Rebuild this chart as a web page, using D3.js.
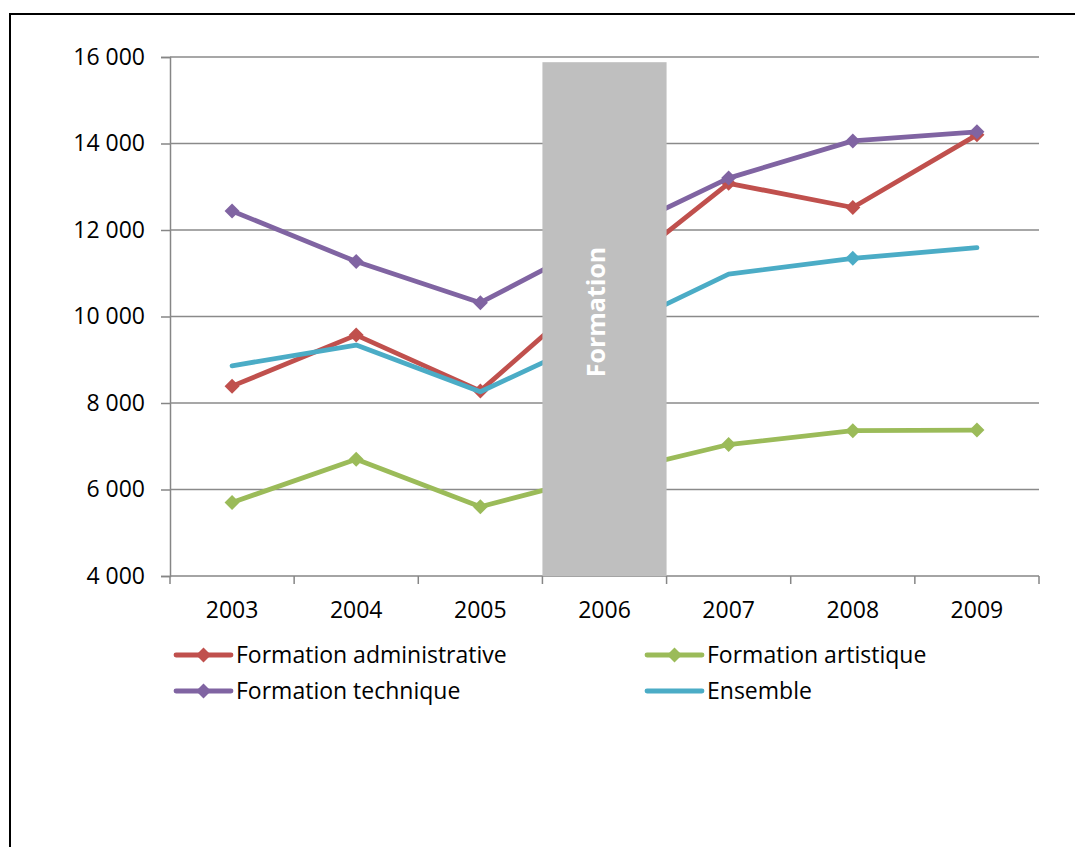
<!DOCTYPE html>
<html>
<head>
<meta charset="utf-8">
<script src="https://cdn.jsdelivr.net/npm/d3@7"></script>
<style>
  body { margin: 0; background: #fff; }
  text { font-family: "Open Sans", "Noto Sans", sans-serif; }
</style>
</head>
<body>
<script>
// data (2006 hidden behind the grey band, estimated)
const years = ["2003", "2004", "2005", "2006", "2007", "2008", "2009"];
const administrative = [8390, 9570, 8280, 10800, 13080, 12520, 14200];
const artistique = [5700, 6700, 5600, 6350, 7040, 7360, 7375];
const technique = [12440, 11270, 10320, 11820, 13200, 14060, 14270];
const ensemble = [8860, 9340, 8260, 9600, 10980, 11345, 11590];
const ensembleMarkers = ["2008"];
const seriesNames = ["Formation administrative", "Formation artistique", "Formation technique", "Ensemble"];
const seriesColors = ["#C0504D", "#9BBB59", "#8064A2", "#4BACC6"];
const yTicks = [4000, 6000, 8000, 10000, 12000, 14000, 16000];
const bandYear = "2006";
const bandLabel = "Formation";
const bandTop = 15880;

const W = 1075, H = 847;
const svg = d3.select("body").append("svg")
  .attr("width", W)
  .attr("height", H);

// outer frame
svg.append("rect")
  .attr("x", 10).attr("y", 14)
  .attr("width", 1100).attr("height", 900)
  .attr("fill", "none").attr("stroke", "#000").attr("stroke-width", 2);

const x = d3.scaleBand().domain(years).range([170, 1039]).padding(0);
const y = d3.scaleLinear().domain([4000, 16000]).range([576, 57]);
const fr = d3.formatLocale({ decimal: ",", thousands: " ", grouping: [3], currency: ["", ""] });
const fmt = fr.format(",d");
const cx = d => x(d) + x.bandwidth() / 2;

// gridlines + y axis
const yAxis = d3.axisLeft(y).tickValues(yTicks).tickFormat(fmt).tickSize(9).tickPadding(16);
const gy = svg.append("g").attr("transform", "translate(170,0)").call(yAxis);
gy.select(".domain").attr("stroke", "#868686").attr("stroke-width", 1.5);
gy.selectAll(".tick line").attr("stroke", "#868686").attr("stroke-width", 1.5);
gy.selectAll(".tick text").attr("font-size", 23).attr("fill", "#000")
  .attr("font-family", "Open Sans, sans-serif");

svg.append("g").selectAll("line")
  .data(yTicks.filter(t => t > 4000))
  .join("line")
  .attr("x1", 170).attr("x2", 1039)
  .attr("y1", d => y(d)).attr("y2", d => y(d))
  .attr("stroke", "#8a8a8a").attr("stroke-width", 1.5);

// x axis: baseline, ticks between categories, labels
svg.append("line")
  .attr("x1", 170).attr("x2", 1039).attr("y1", y(4000)).attr("y2", y(4000))
  .attr("stroke", "#868686").attr("stroke-width", 1.5);
const edges = years.map(d => x(d)).concat([x.range()[1]]);
svg.append("g").selectAll("line")
  .data(edges)
  .join("line")
  .attr("x1", d => d).attr("x2", d => d)
  .attr("y1", y(4000)).attr("y2", y(4000) + 8)
  .attr("stroke", "#868686").attr("stroke-width", 1.5);
svg.append("g").selectAll("text")
  .data(years)
  .join("text")
  .attr("x", d => cx(d)).attr("y", 618)
  .attr("text-anchor", "middle")
  .attr("font-size", 23)
  .text(d => d);

// series lines
const allSeries = [administrative, artistique, technique, ensemble];
const line = d3.line().x((d, i) => cx(years[i])).y(d => y(d));
const diamond = "M0,-7.5L7.5,0L0,7.5L-7.5,0Z";

allSeries.forEach((vals, s) => {
  svg.append("path")
    .datum(vals)
    .attr("d", line)
    .attr("fill", "none")
    .attr("stroke", seriesColors[s])
    .attr("stroke-width", 4.8)
    .attr("stroke-linejoin", "round")
    .attr("stroke-linecap", "round");
  const pts = vals.map((v, i) => ({ year: years[i], v }))
    .filter(p => s < 3 || ensembleMarkers.includes(p.year));
  svg.append("g").selectAll("path")
    .data(pts)
    .join("path")
    .attr("d", diamond)
    .attr("transform", p => `translate(${cx(p.year)},${y(p.v)})`)
    .attr("fill", seriesColors[s]);
});

// grey band over 2006
svg.append("rect")
  .attr("x", x(bandYear)).attr("width", x.bandwidth())
  .attr("y", y(bandTop)).attr("height", y(4000) - y(bandTop))
  .attr("fill", "#BFBFBF");
svg.append("text")
  .attr("transform", `translate(${cx(bandYear)},312) rotate(-90)`)
  .attr("text-anchor", "middle")
  .attr("font-size", 25)
  .attr("font-weight", "bold")
  .attr("fill", "#fff")
  .text(bandLabel);

// legend
const legPos = [[176, 655], [647, 655], [176, 691], [647, 691]];
seriesNames.forEach((name, s) => {
  const [lx, ly] = legPos[s];
  const g = svg.append("g").attr("transform", `translate(${lx},${ly})`);
  g.append("line")
    .attr("x1", 0).attr("x2", 55).attr("y1", 0).attr("y2", 0)
    .attr("stroke", seriesColors[s]).attr("stroke-width", 4.8)
    .attr("stroke-linecap", "round");
  if (s < 3) {
    g.append("path").attr("d", diamond)
      .attr("transform", "translate(27.5,0)")
      .attr("fill", seriesColors[s]);
  }
  g.append("text")
    .attr("x", 60).attr("y", 8)
    .attr("font-size", 23)
    .attr("fill", "#000")
    .text(name);
});
</script>
</body>
</html>
